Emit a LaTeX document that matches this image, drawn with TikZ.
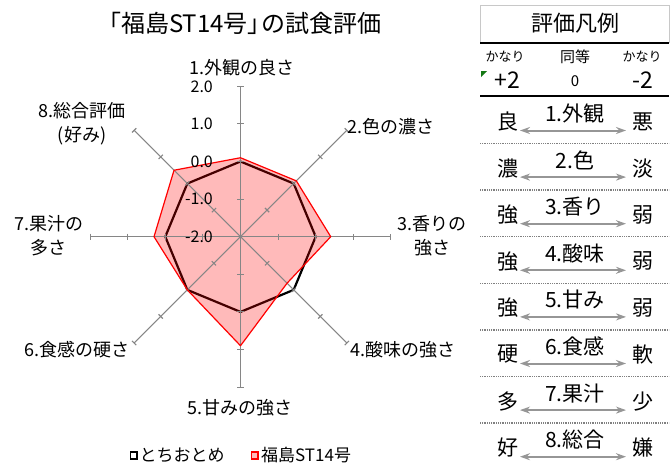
\documentclass[tikz,border=0pt]{standalone}
\usepackage{fontspec}
\setmainfont{Noto Sans CJK JP}
\usetikzlibrary{arrows.meta}
\definecolor{axisgray}{RGB}{134,134,134}
\definecolor{arrowgray}{RGB}{150,150,150}
\definecolor{boxgray}{RGB}{200,200,200}
\definecolor{markgreen}{RGB}{20,120,20}
\definecolor{pinkfill}{RGB}{255,187,187}
\newcommand{\fsz}[1]{\fontsize{#1}{#1}\selectfont}

\begin{document}
\begin{tikzpicture}[x=1pt,y=-1pt,
  axis/.style={draw=axisgray, line width=1.1pt},
  ticklabel/.style={anchor=east, inner sep=0pt, font=\fsz{16}},
  axislabel/.style={inner sep=0pt, align=center, font=\fontsize{18}{24}\selectfont},
  rowtext/.style={inner sep=0pt, font=\fsz{21}},
  sepline/.style={draw=gray, line width=1.4pt, dash pattern=on 1pt off 0.8pt},
  legarrow/.style={draw=arrowgray, line width=2pt, {Stealth[length=10pt,width=7pt]}-{Stealth[length=10pt,width=7pt]}}]
\useasboundingbox (0,0) rectangle (670,463);
\fill[white] (0,0) rectangle (670,463);
% title
\node[font=\fsz{24}] (title) at (239,23) {「福島ST14号」\kern-0.45em の試食評価};
% radar chart
\begin{scope}[shift={(240.5,236.7)}, x=37.6pt, y=37.6pt]
  % とちおとめ
  \draw[black, line width=2.2pt, line join=round] (90:2) -- (45:2) -- (0:2) -- (-45:2) -- (-90:2) -- (-135:2) -- (180:2) -- (135:2) -- cycle;
  % 福島ST14号
  \fill[red, fill opacity=0.27] (90:2.1) -- (45:2.1) -- (0:2.4) -- (-45:1.75) -- (-90:2.9) -- (-135:2.0) -- (180:2.3) -- (135:2.5) -- cycle;
  \foreach \a in {90,45,...,-225} {
    \draw[axis] (0,0) -- (\a:4);
    \foreach \r in {1,...,4}
      \draw[axis, rotate=\a] (\r,-0.08) -- (\r,0.08);
  }
  \draw[red, line width=1.2pt, line join=round] (90:2.1) -- (45:2.1) -- (0:2.4) -- (-45:1.75) -- (-90:2.9) -- (-135:2.0) -- (180:2.3) -- (135:2.5) -- cycle;
  \foreach \v [count=\k from 0] in {-2.0,-1.0,0.0,1.0,2.0}
    \node[ticklabel] (tk\k) at (-0.73,\k) {\v};
\end{scope}
% axis labels
\node[axislabel] (ax1) at (242,68) {1.外観の良さ};
\node[axislabel, anchor=west] (ax2) at (347,127) {2.色の濃さ};
\node[axislabel] (ax3) at (432,236) {3.香りの\\強さ};
\node[axislabel, anchor=west] (ax4) at (350,350) {4.酸味の強さ};
\node[axislabel] (ax5) at (240,408) {5.甘みの強さ};
\node[axislabel, anchor=east] (ax6) at (130,350) {6.食感の硬さ};
\node[axislabel] (ax7) at (49,236) {7.果汁の\\多さ};
\node[axislabel] (ax8) at (82,124) {8.総合評価\\(好み)};
% legend
\draw[black, line width=1.8pt, fill=white] (130.5,452) rectangle (137,459);
\node[axislabel, anchor=west, font=\fsz{17}] (lg1) at (139.5,455.5) {とちおとめ};
\draw[red, line width=1.8pt, fill=pinkfill] (251.5,452) rectangle (258,459);
\node[axislabel, anchor=west, font=\fsz{17}] (lg2) at (261,455.5) {福島ST14号};
% 評価凡例
\draw[boxgray, line width=0.8pt] (480,5) rectangle (669,42.5);
\node[font=\fsz{22}] (hd) at (575,23) {評価凡例};
\draw[black, line width=2pt] (480,42.5) -- (669,42.5);
\node[font=\fsz{13}] (kn1) at (505,57) {かなり};
\node[font=\fsz{15}] (dt) at (575,57) {同等};
\node[font=\fsz{13}] (kn2) at (642,57) {かなり};
\node[font=\fsz{23}] (pl) at (507,80) {+2};
\node[font=\fsz{15}] (zr) at (575,81) {0};
\node[font=\fsz{23}] (mn) at (643,80) {-2};
\fill[markgreen] (481,71) -- (487,71) -- (481,77) -- cycle;
\draw[black, line width=2pt] (480,95.7) -- (669,95.7);
\foreach \i/\lft/\lbl/\rgt in {1/良/1.外観/悪, 2/濃/2.色/淡, 3/強/3.香り/弱, 4/強/4.酸味/弱, 5/強/5.甘み/弱, 6/硬/6.食感/軟, 7/多/7.果汁/少, 8/好/8.総合/嫌} {
  \pgfmathsetmacro\ry{121.5+46.6*(\i-1)}
  \node[rowtext] (lf\i) at (508,\ry) {\lft};
  \node[rowtext] (rt\i) at (643,\ry) {\rgt};
  \node[rowtext] (it\i) at (575,\ry-8) {\lbl};
  \coordinate (al\i) at (520,\ry+9);
  \coordinate (ar\i) at (626,\ry+9);
  \draw[legarrow] (al\i) -- (ar\i);
  \ifnum\i<8 \draw[sepline] (480,\ry+22) -- (669,\ry+22); \fi
}
\end{tikzpicture}
\end{document}
